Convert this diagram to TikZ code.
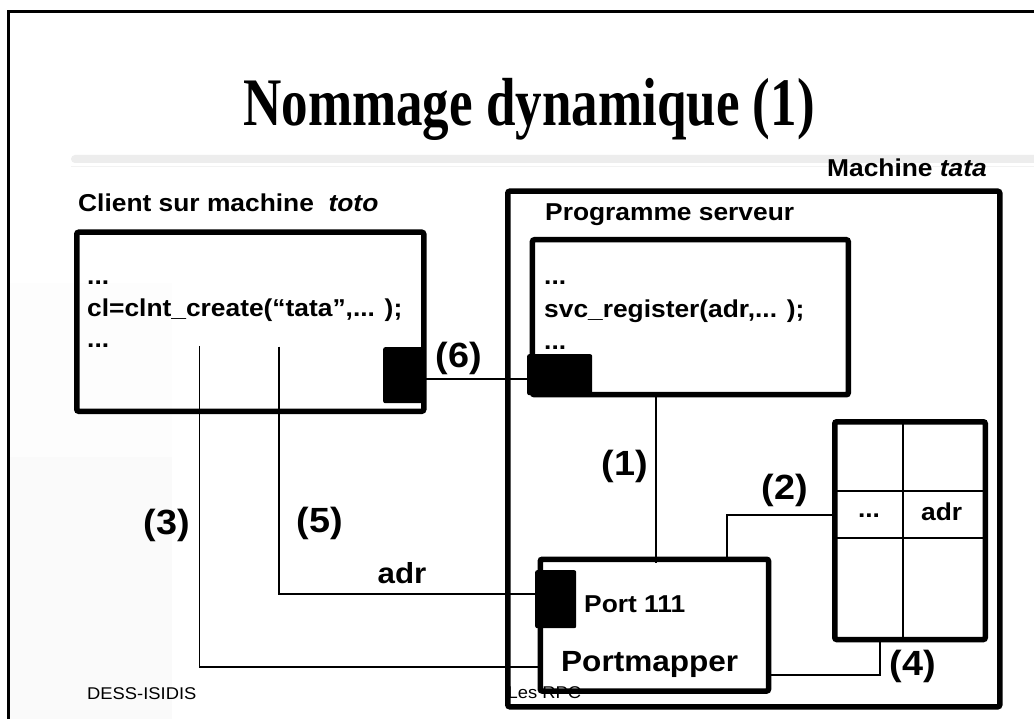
\documentclass[tikz,border=0pt]{standalone}
\usepackage{fontspec}
\newfontfamily\slidesans[FakeStretch=1.08]{Liberation Sans}
\newfontfamily\slideserif[FakeStretch=0.78]{Liberation Serif}
\begin{document}
\begin{tikzpicture}[x=1pt,y=-1pt,
  frame/.style={draw, line width=5.5pt, rounded corners=2pt, inner sep=0, anchor=north west},
  portbox/.style={fill=black, draw=none, rounded corners=2pt, inner sep=0, anchor=north west},
  wire/.style={line width=1.8pt},
  txt/.style={inner sep=0, anchor=base west, font=\slidesans\bfseries\fontsize{24.4}{28}\selectfont},
  num/.style={inner sep=0, font=\slidesans\bfseries\fontsize{35}{37}\selectfont},
  foot/.style={inner sep=0, anchor=base west, font=\slidesans\fontsize{17}{19}\selectfont}]

% page background and faint shading on the left
\useasboundingbox (0,0) rectangle (1034,719);
\fill[white] (0,0) rectangle (1034,719);
\fill[black!0.8] (10,283) rectangle (172,457);
\fill[black!1.8] (10,457) rectangle (172,719);

% slide frame and title rule
\draw[line width=3.5pt] (8.5,730) -- (8.5,11.5) -- (1045,11.5);
\fill[black!7, rounded corners=4pt] (71,155) rectangle (1045,163);
\draw[black!5, line width=1.5pt] (71,166.5) -- (1045,166.5);

% title
\node[inner sep=0, anchor=base] (title) at (529,126)
  {\slideserif\bfseries\fontsize{68}{70}\selectfont Nommage dynamique (1)};

% footers
\node[foot] (footl) at (87,699) {DESS-ISIDIS};
\node[foot] (footr) at (507.5,698.5) {Les RPC};

% client side
\node[txt] (clientlbl) at (78,212) {Client sur machine\ \ \textit{toto}};
\node[frame, minimum width=347pt, minimum height=179pt] (client) at (74,229.5) {};
\node[txt] (cl1) at (87,285) {...};
\node[txt] (cl2) at (87,317) {cl=clnt\_create(“tata”,... );};
\node[txt] (cl3) at (87,348) {...};
\node[portbox, minimum width=40pt, minimum height=56pt] (cport) at (383,347) {};

% server machine
\node[txt, anchor=base east] (machlbl) at (987,177) {Machine \textit{tata}};
\node[frame, minimum width=492pt, minimum height=515.5pt] (machine) at (505,188.5) {};
\node[txt] (proglbl) at (545,221) {Programme serveur};
\node[frame, minimum width=315.8pt, minimum height=155pt] (prog) at (529.7,237) {};
\node[txt] (sv1) at (544,285) {...};
\node[txt] (sv2) at (544,318) {svc\_register(adr,... );};
\node[txt] (sv3) at (544,350) {...};
\node[portbox, minimum width=65pt, minimum height=41pt] (sport) at (527,354) {};

% portmapper
\node[frame, minimum width=228.3pt, minimum height=131.8pt] (pm) at (537.5,556.5) {};
\node[portbox, minimum width=41pt, minimum height=58pt] (pmport) at (535,570) {};
\node[txt] (port) at (584,612) {Port 111};
\node[txt, font=\slidesans\bfseries\fontsize{29.2}{32}\selectfont] (pmlbl) at (561,671.5) {Portmapper};

% registration table
\node[frame, minimum width=150.5pt, minimum height=217.8pt] (tab) at (832,419) {};
\coordinate (tv) at (903.3,0);
\coordinate (th1) at (0,490.7);
\coordinate (th2) at (0,538.3);
\draw[wire] (tv |- tab.north) -- (tv |- tab.south);
\draw[wire] (tab.west |- th1) -- (tab.east |- th1);
\draw[wire] (tab.west |- th2) -- (tab.east |- th2);
\node[txt, anchor=center] (tdots) at (869,515.5) {...};
\node[txt, anchor=base] (tadr) at (941.7,520) {adr};

% connectors
\draw[wire] ([yshift=-4pt]cport.east) -- ([yshift=-4pt]cport.east -| sport.west);
\coordinate (k1) at (655.7,563);
\draw[wire] (k1 |- prog.south) -- (k1);
\coordinate (k2) at (727.3,515);
\draw[wire] (k2 |- pm.north) -- (k2) -- (k2 -| tab.west);
\coordinate (k4) at (880,675);
\draw[wire] (k4 |- tab.south) -- (k4) -- (k4 -| pm.east);
\coordinate (s3) at (199.5,346);
\coordinate (k3) at (199.5,666.7);
\draw[wire] (s3) -- (k3) -- (k3 -| pm.west);
\coordinate (s5) at (279,346.7);
\coordinate (k5) at (279,594.3);
\draw[wire] (s5) -- (k5) -- (k5 -| pmport.west);

% step labels
\node[num] (n1) at (625,466.5) {(1)};
\node[num] (n2) at (785,490) {(2)};
\node[num] (n3) at (167,525) {(3)};
\node[num] (n4) at (913,666.5) {(4)};
\node[num] (n5) at (320,523.5) {(5)};
\node[num] (n6) at (459,358) {(6)};
\node[txt, anchor=base, font=\slidesans\bfseries\fontsize{29}{32}\selectfont] (adr) at (402,583) {adr};
\end{tikzpicture}
\end{document}
